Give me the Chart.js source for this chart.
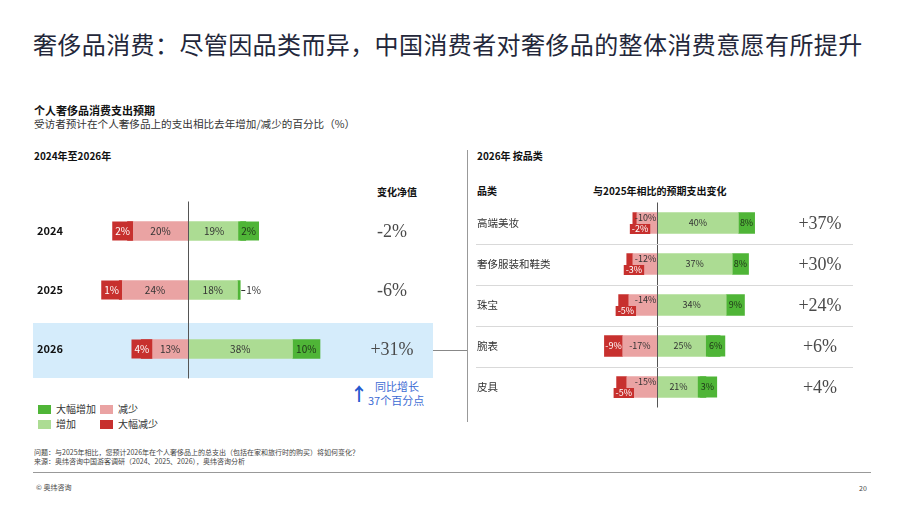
<!DOCTYPE html>
<html>
<head>
<meta charset="utf-8">
<script src="https://cdn.jsdelivr.net/npm/chart.js"></script>
<style>
body{margin:0;background:#fff;width:900px;height:507px;overflow:hidden;position:relative;font-family:"Noto Sans CJK SC","Noto Sans",sans-serif;color:#222}
.t{position:absolute;white-space:nowrap;line-height:1}
canvas{position:absolute;left:0;top:0}
.sq{position:absolute;width:13px;height:9px}
</style>
</head>
<body>
<div class="t" style="left:33px;top:32px;font-size:24px;letter-spacing:0.4px;color:#23273a">奢侈品消费：尽管因品类而异，中国消费者对奢侈品的整体消费意愿有所提升</div>
<div class="t" style="left:34px;top:105px;font-size:11px;font-weight:bold;color:#111">个人奢侈品消费支出预期</div>
<div class="t" style="left:34px;top:119px;font-size:10.6px;color:#333">受访者预计在个人奢侈品上的支出相比去年增加/减少的百分比（%）</div>
<div class="t" style="left:34px;top:151px;font-size:10px;font-weight:bold;color:#111">2024年至2026年</div>
<div class="t" style="left:377px;top:187px;font-size:10px;font-weight:bold;color:#111">变化净值</div>

<div style="position:absolute;left:33px;top:323px;width:400px;height:55px;background:#d5ecfb"></div>
<div style="position:absolute;left:433px;top:350px;width:34px;height:1px;background:#888"></div>
<div style="position:absolute;left:467px;top:150px;width:1px;height:272px;background:#999"></div>

<div class="t" style="left:350px;top:384px;font-size:18px;font-weight:bold;color:#2458cf">↑</div>
<div class="t" style="left:375px;top:381px;font-size:11px;color:#3d6cd4">同比增长</div>
<div class="t" style="left:368px;top:395px;font-size:11px;color:#3d6cd4">37个百分点</div>

<div class="sq" style="left:38px;top:405px;background:#4fb537"></div>
<div class="t" style="left:56px;top:404px;font-size:10px;color:#333">大幅增加</div>
<div class="sq" style="left:100px;top:405px;background:#eaa3a3"></div>
<div class="t" style="left:118px;top:404px;font-size:10px;color:#333">减少</div>
<div class="sq" style="left:38px;top:420px;background:#acdc93"></div>
<div class="t" style="left:56px;top:419px;font-size:10px;color:#333">增加</div>
<div class="sq" style="left:100px;top:420px;background:#c7302e"></div>
<div class="t" style="left:118px;top:419px;font-size:10px;color:#333">大幅减少</div>

<div class="t" style="left:477px;top:151px;font-size:10px;font-weight:bold;color:#111">2026年 按品类</div>
<div class="t" style="left:477px;top:186px;font-size:10px;font-weight:bold;color:#111">品类</div>
<div class="t" style="left:593px;top:186px;font-size:10px;font-weight:bold;color:#111">与2025年相比的预期支出变化</div>

<div class="t" style="left:34px;top:449px;font-size:7px;color:#444">问题：与2025年相比，您预计2026年在个人奢侈品上的总支出（包括在家和旅行时的购买）将如何变化？</div>
<div class="t" style="left:34px;top:458px;font-size:7px;color:#444">来源：奥纬咨询中国游客调研（2024、2025、2026），奥纬咨询分析</div>
<div style="position:absolute;left:33px;top:472px;width:838px;height:1px;background:#999"></div>
<div class="t" style="left:36px;top:484px;font-size:7px;color:#444">© 奥纬咨询</div>
<div class="t" style="left:859px;top:485px;font-size:7px;color:#444">20</div>

<canvas id="left" width="900" height="507"></canvas>
<canvas id="right" width="900" height="507"></canvas>

<script>
// 左图：2024年至2026年
const years = ["2024", "2025", "2026"];
const yearBigDec = [2, 1, 4];
const yearDec = [20, 24, 13];
const yearInc = [19, 18, 38];
const yearBigInc = [2, 1, 10];
const yearNet = ["-2%", "-6%", "+31%"];

// 右图：2026年 按品类
const cats = ["高端美妆", "奢侈服装和鞋类", "珠宝", "腕表", "皮具"];
const catBigDec = [-2, -3, -5, -9, -5];
const catDec = [-10, -12, -14, -17, -15];
const catInc = [40, 37, 34, 25, 21];
const catBigInc = [8, 8, 9, 6, 3];
const catNet = ["+37%", "+30%", "+24%", "+6%", "+4%"];

const C = {bigDec:"#c7302e", dec:"#eaa3a3", inc:"#acdc93", bigInc:"#4fb537"};
const SANS = '"Noto Sans CJK SC","Noto Sans",sans-serif';

function labelPlugin(side){
    return {
        id:"labels_"+side,
        afterDatasetsDraw(chart){
            let ctx = chart.ctx;
            let fs = side=="left" ? 10 : 9;
            ctx.save();
            ctx.textBaseline = "middle";
            ctx.font = fs+"px "+SANS;
            let metas = chart.data.datasets.map((d,i)=>chart.getDatasetMeta(i));
            chart.data.datasets.forEach((ds,di)=>{
                metas[di].data.forEach((el,i)=>{
                    let v = ds.data[i];
                    let txt = side=="left" ? Math.abs(v)+"%" : v+"%";
                    let l = Math.min(el.x, el.base), r = Math.max(el.x, el.base);
                    let w = r-l, h = el.height, y = el.y;
                    let tw = ctx.measureText(txt).width;
                    ctx.textAlign = "center";
                    if(ds.kind=="inc"){
                        ctx.fillStyle = "#333";
                        ctx.fillText(txt, (l+r)/2, y);
                    }
                    if(ds.kind=="dec"){
                        ctx.fillStyle = "#333";
                        let bd = metas[di+1].data[i];
                        let bw = Math.abs(bd.x-bd.base);
                        let btw = ctx.measureText(chart.data.datasets[di+1].data[i]+"%").width;
                        if(side=="right" && bw < btw){
                            ctx.textAlign = "right";
                            ctx.fillText(txt, r-1, y-5);
                        } else {
                            ctx.fillText(txt, (l+r)/2, y);
                        }
                    }
                    if(ds.kind=="bigDec"){
                        if(w >= tw){
                            ctx.fillStyle = "#fff";
                            ctx.fillText(txt, (l+r)/2, y);
                        } else if(side=="left"){
                            ctx.fillStyle = C.bigDec;
                            ctx.fillRect(r-tw-6, y-h/2, tw+6, h);
                            ctx.fillStyle = "#fff";
                            ctx.fillText(txt, r-(tw+6)/2, y);
                        } else {
                            ctx.fillStyle = C.bigDec;
                            ctx.fillRect(l-3, y+1, tw+4, 10);
                            ctx.fillStyle = "#fff";
                            ctx.fillText(txt, l-3+(tw+4)/2, y+6);
                        }
                    }
                    if(ds.kind=="bigInc"){
                        if(w >= tw+2){
                            ctx.fillStyle = "#1e3318";
                            ctx.fillText(txt, (l+r)/2, y);
                        } else if(w < 5){
                            ctx.strokeStyle = "#333";
                            ctx.lineWidth = 1;
                            ctx.beginPath();
                            ctx.moveTo(r+1, y+0.5); ctx.lineTo(r+5, y+0.5);
                            ctx.stroke();
                            ctx.fillStyle = "#333";
                            ctx.textAlign = "left";
                            ctx.fillText(txt, r+6, y);
                        } else {
                            ctx.fillStyle = C.bigInc;
                            ctx.fillRect(l-2, y-h/2, tw+6, h);
                            ctx.fillStyle = "#1e3318";
                            ctx.fillText(txt, l-2+(tw+6)/2, y);
                        }
                    }
                });
            });
            ctx.restore();
        },
        afterDraw(chart){
            let ctx = chart.ctx;
            let xs = chart.scales.x, ys = chart.scales.y;
            let a = chart.chartArea;
            ctx.save();
            // zero line
            let zx = Math.round(xs.getPixelForValue(0))+0.5;
            ctx.strokeStyle = "#555";
            ctx.lineWidth = 1;
            ctx.beginPath();
            ctx.moveTo(zx, a.top); ctx.lineTo(zx, a.bottom);
            ctx.stroke();
            let labels = chart.data.labels;
            let nets = side=="left" ? yearNet : catNet;
            ctx.textBaseline = "middle";
            labels.forEach((lab,i)=>{
                let y = ys.getPixelForValue(i);
                ctx.fillStyle = side=="left" ? "#111" : "#333";
                ctx.font = side=="left" ? "bold 11px "+SANS : "10.5px "+SANS;
                ctx.textAlign = "left";
                ctx.fillText(lab, side=="left" ? 37 : 477, y);
                ctx.fillStyle = "#4a4a4a";
                ctx.font = '18px "Liberation Serif",serif';
                ctx.textAlign = "center";
                ctx.fillText(nets[i], side=="left" ? 392 : 820, y+1);
                if(side=="right" && i < labels.length-1){
                    let yy = Math.round((y + ys.getPixelForValue(i+1))/2)+0.5;
                    ctx.strokeStyle = "#d9d9d9";
                    ctx.beginPath();
                    ctx.moveTo(476, yy); ctx.lineTo(853, yy);
                    ctx.stroke();
                }
            });
            ctx.restore();
        }
    };
}

function makeChart(id, side, labels, dec, bigDec, inc, bigInc, pad, thick){
    let neg = side=="left" ? (arr=>arr.map(v=>-v)) : (arr=>arr);
    return new Chart(document.getElementById(id), {
        type:"bar",
        data:{
            labels:labels,
            datasets:[
                {kind:"dec", data:neg(dec), backgroundColor:C.dec},
                {kind:"bigDec", data:neg(bigDec), backgroundColor:C.bigDec},
                {kind:"inc", data:inc, backgroundColor:C.inc},
                {kind:"bigInc", data:bigInc, backgroundColor:C.bigInc}
            ]
        },
        options:{
            indexAxis:"y",
            responsive:false,
            animation:false,
            barThickness:thick,
            borderWidth:0,
            layout:{padding:pad},
            plugins:{legend:{display:false}, tooltip:{enabled:false}},
            scales:{
                x:{stacked:true, display:false, min:-40, max:60},
                y:{stacked:true, display:false}
            }
        },
        plugins:[labelPlugin(side)]
    });
}

// left: zero at 188, 2.75px per %, rows centred 231..349
makeChart("left", "left", years, yearDec, yearBigDec, yearInc, yearBigInc,
    {left:78, right:900-353, top:201.5, bottom:507-378.5}, 19);
// right: zero at 657, 2.03px per %, rows centred 223..387
makeChart("right", "right", cats, catDec, catBigDec, catInc, catBigInc,
    {left:576, right:900-779, top:202.5, bottom:507-407.5}, 21);
</script>
</body>
</html>
